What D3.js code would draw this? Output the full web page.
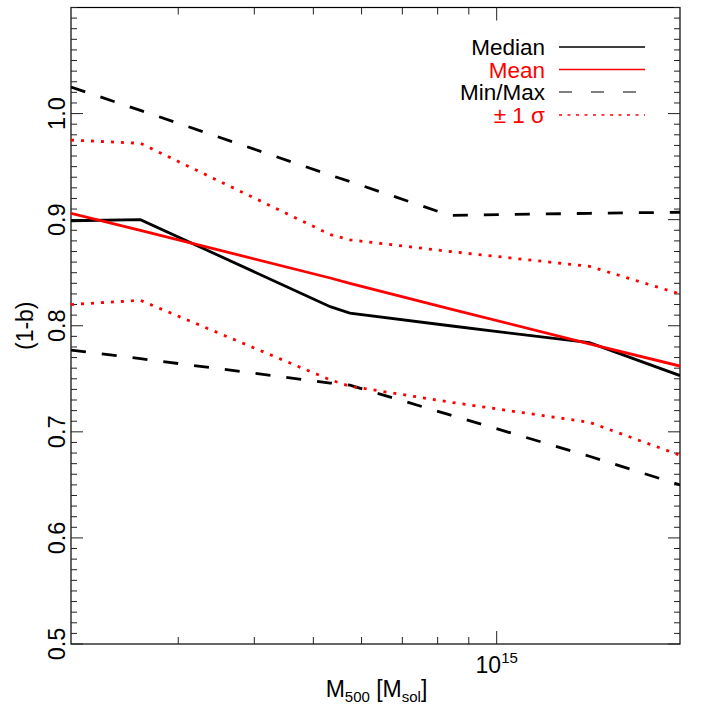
<!DOCTYPE html>
<html>
<head>
<meta charset="utf-8">
<script src="https://cdn.jsdelivr.net/npm/d3@7"></script>
<style>
html,body{margin:0;padding:0;background:#fff;}
svg{display:block;font-family:"Liberation Sans",Arial,Helvetica,sans-serif;}
</style>
</head>
<body>
<svg id="chart" width="706" height="706"></svg>
<script>
// Mass bins (M_sol)
const masses = [2.0e14, 2.6e14, 5.33e14, 5.74e14, 8.38e14, 1.42e15, 2.0e15];
const median = [0.899, 0.900, 0.818, 0.812, 0.800, 0.784, 0.753];
const mean   = [0.906, 0.890, 0.845, 0.840, 0.816, 0.783, 0.762];
const maxV   = [1.025, 1.003, 0.942, 0.936, 0.904, 0.906, 0.907];
const minV   = [0.777, 0.769, 0.746, 0.744, 0.716, 0.677, 0.650];
const sigUp  = [0.975, 0.972, 0.886, 0.881, 0.870, 0.856, 0.830];
const sigLo  = [0.820, 0.824, 0.749, 0.743, 0.728, 0.709, 0.678];

const yMajor = [0.5, 0.6, 0.7, 0.8, 0.9, 1.0];
const yMajorLabels = ["0.5", "0.6", "0.7", "0.8", "0.9", "1.0"];
const xMinorTicks = [3e14, 4e14, 5e14, 6e14, 7e14, 8e14, 9e14];
const xMajorTicks = [1e15];

const legendLabels = ["Median", "Mean", "Min/Max", "\u00B1 1 \u03C3"];
const legendColors = ["#000", "#ff0000", "#000", "#ff0000"];

const L = 71, R = 680, T = 7.5, B = 644;
const svg = d3.select("#chart");
const x = d3.scaleLog().domain([2e14, 2e15]).range([L, R]);
const y = d3.scaleLinear().domain([0.5, 1.1]).range([B, T]);

// frame
svg.append("rect").attr("x", L).attr("y", T).attr("width", R - L).attr("height", B - T)
  .attr("fill", "none").attr("stroke", "#000").attr("stroke-width", 1.2);

// y ticks (left + right)
const yMinor = d3.range(50, 111).map(d => d / 100);
const yt = svg.append("g").attr("stroke", "#222").attr("stroke-width", 1);
yMinor.forEach(v => {
  const isMajor = yMajor.some(m => Math.abs(m - v) < 1e-9);
  const len = isMajor ? 12 : 6;
  yt.append("line").attr("x1", L).attr("x2", L + len).attr("y1", y(v)).attr("y2", y(v));
  yt.append("line").attr("x1", R).attr("x2", R - len).attr("y1", y(v)).attr("y2", y(v));
});
yMajor.forEach((v, i) => {
  svg.append("text").attr("transform", `translate(${L - 6},${y(v)}) rotate(-90)`)
    .attr("text-anchor", "middle").attr("font-size", 23.5).attr("fill", "#000")
    .text(yMajorLabels[i]);
});

// x ticks
const xt = svg.append("g").attr("stroke", "#222").attr("stroke-width", 1);
xMinorTicks.forEach(v => {
  xt.append("line").attr("x1", x(v)).attr("x2", x(v)).attr("y1", B).attr("y2", B - 7);
  xt.append("line").attr("x1", x(v)).attr("x2", x(v)).attr("y1", T).attr("y2", T + 7);
});
xMajorTicks.forEach(v => {
  xt.append("line").attr("x1", x(v)).attr("x2", x(v)).attr("y1", B).attr("y2", B - 13);
  xt.append("line").attr("x1", x(v)).attr("x2", x(v)).attr("y1", T).attr("y2", T + 13);
  const t = svg.append("text").attr("x", x(v)).attr("y", B + 29).attr("text-anchor", "middle")
    .attr("font-size", 23).attr("fill", "#000");
  t.append("tspan").text("10");
  t.append("tspan").attr("dy", -10).attr("font-size", 15).text("15");
});

// axis titles
const xl = svg.append("text").attr("x", (L + R) / 2 + 1).attr("y", 697).attr("text-anchor", "middle")
  .attr("font-size", 23).attr("fill", "#000");
xl.append("tspan").text("M");
xl.append("tspan").attr("dy", 5).attr("font-size", 15).text("500");
xl.append("tspan").attr("dy", -5).text(" [M");
xl.append("tspan").attr("dy", 5).attr("font-size", 15).text("sol");
xl.append("tspan").attr("dy", -5).text("]");

svg.append("text").attr("transform", `translate(33,${(T + B) / 2}) rotate(-90)`)
  .attr("text-anchor", "middle").attr("font-size", 23).attr("fill", "#000").text("(1-b)");

// data lines
const pts = vals => masses.map((m, i) => [m, vals[i]]);
const line = d3.line().x(d => x(d[0])).y(d => y(d[1]));
const clip = svg.append("clipPath").attr("id", "clip").append("rect")
  .attr("x", L).attr("y", T).attr("width", R - L).attr("height", B - T);
const g = svg.append("g").attr("clip-path", "url(#clip)");
const series = [
  {v: maxV, c: "#000", dash: "15,16"},
  {v: minV, c: "#000", dash: "15,16"},
  {v: sigUp, c: "#ff0000", dash: "3,7"},
  {v: sigLo, c: "#ff0000", dash: "3,7"},
  {v: median, c: "#000", dash: null},
  {v: mean, c: "#ff0000", dash: null}
];
series.forEach(s => {
  g.append("path").attr("d", line(pts(s.v))).attr("fill", "none")
    .attr("stroke", s.c).attr("stroke-width", 2.8)
    .attr("stroke-dasharray", s.dash);
});

// legend
const legY = [47, 69.5, 92, 115];
const legDash = [null, null, "13,19", "3,5.5"];
legendLabels.forEach((lab, i) => {
  svg.append("text").attr("x", 545).attr("y", legY[i] + 8).attr("text-anchor", "end")
    .attr("font-size", 22.5).attr("fill", legendColors[i]).text(lab);
  svg.append("line").attr("x1", 559).attr("x2", 645).attr("y1", legY[i]).attr("y2", legY[i])
    .attr("stroke", i === 2 ? "#555" : legendColors[i]).attr("stroke-width", 1.3)
    .attr("stroke-dasharray", legDash[i]);
});
</script>
</body>
</html>
